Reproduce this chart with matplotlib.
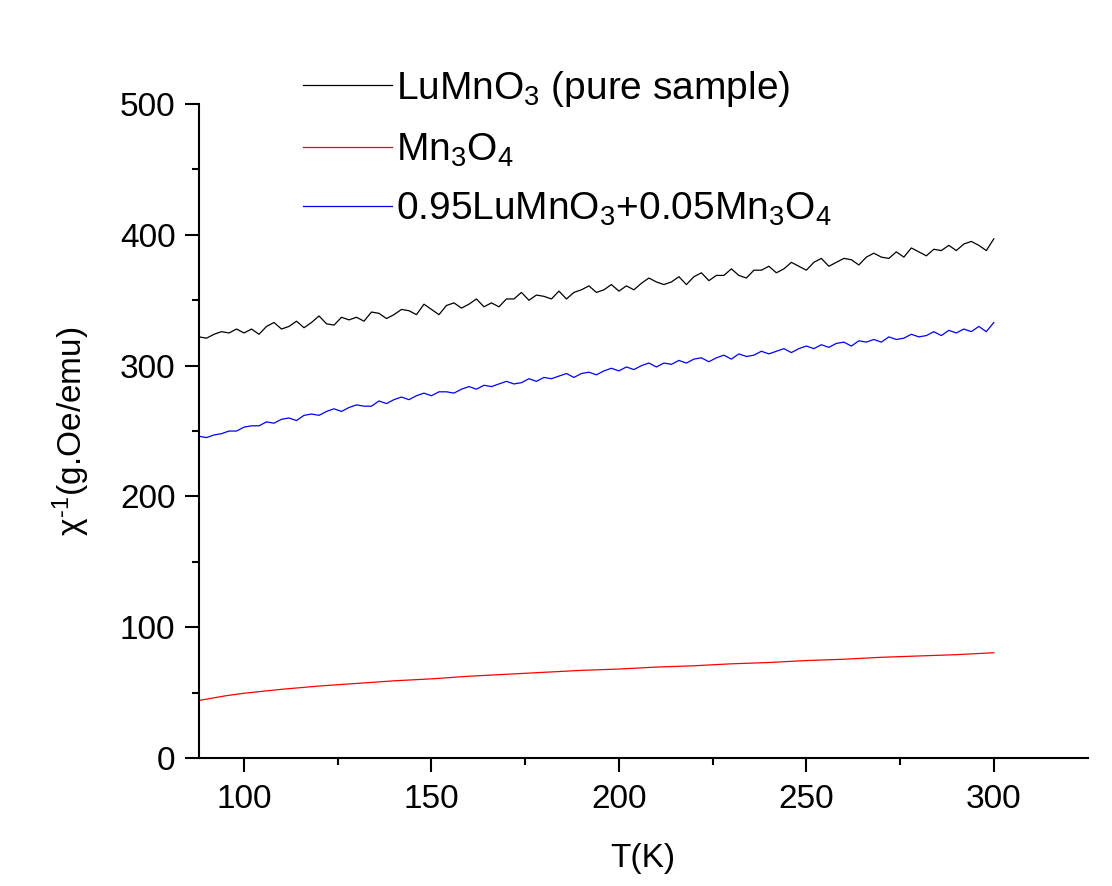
import matplotlib
matplotlib.use('Agg')
import matplotlib.pyplot as plt
import numpy as np

plt.rcParams['font.family'] = ['Liberation Sans', 'DejaVu Sans']
plt.rcParams['mathtext.fontset'] = 'custom'
plt.rcParams['mathtext.rm'] = 'Liberation Sans'
plt.rcParams['mathtext.it'] = 'Liberation Sans'

# temperature grid of the noisy measurements (K)
T = np.arange(88, 301, 2)

# LuMnO3 pure sample
chi_pure = [322, 321, 324, 326, 325, 328, 325,
            328, 324, 330, 333, 328, 330, 334, 329, 333, 338,
            332, 331, 337, 335, 337, 334, 341, 340, 336, 339,
            343, 342, 339, 347, 343, 339, 346, 348, 344, 347,
            351, 345, 348, 345, 351, 351, 356, 350, 354, 353,
            351, 357, 351, 356, 358, 361, 356, 358, 362, 357,
            361, 358, 363, 367, 364, 362, 364, 368, 362, 368,
            371, 365, 369, 369, 374, 369, 367, 373, 373, 376,
            371, 374, 379, 376, 373, 379, 382, 376, 379, 382,
            381, 377, 383, 386, 383, 382, 387, 383, 390, 387,
            384, 389, 388, 392, 388, 393, 395, 392, 388, 397]

# 0.95LuMnO3 + 0.05Mn3O4
chi_mix = [246, 245, 247, 248, 250, 250, 253,
           254, 254, 257, 256, 259, 260, 258, 262, 263, 262,
           265, 267, 265, 268, 270, 269, 269, 273, 271, 274,
           276, 274, 277, 279, 277, 280, 280, 279, 282, 284,
           282, 285, 284, 286, 288, 286, 287, 290, 288, 291,
           290, 292, 294, 291, 294, 295, 293, 296, 298, 296,
           299, 297, 300, 302, 299, 302, 301, 304, 302, 305,
           306, 303, 306, 308, 305, 309, 307, 308, 311, 309,
           311, 313, 310, 313, 315, 313, 316, 314, 317, 318,
           315, 319, 318, 320, 318, 322, 320, 321, 324, 322,
           323, 326, 323, 327, 325, 328, 326, 330, 326, 333]

# Mn3O4 (smooth)
T_mn = [88, 90, 95, 100, 110, 120, 130, 140, 150, 160, 170, 180,
        190, 200, 210, 220, 230, 240, 250, 260, 270, 280, 290, 300]
chi_mn = [44, 45, 47.5, 49.5, 52.5, 55, 57, 59, 60.5, 62.5, 64, 65.5,
          67, 68, 69.5, 70.5, 72, 73, 74.5, 75.5, 77, 78, 79, 80.5]

fig = plt.figure(figsize=(11.12, 8.86), dpi=100)
ax = fig.add_axes([0.179, 0.1445, 0.799, 0.738])

ax.plot(T, chi_pure, color='black', lw=0.9, label=r'LuMnO$_3$ (pure sample)')
ax.plot(T_mn, chi_mn, color='red', lw=0.9, label=r'Mn$_3$O$_4$')
ax.plot(T, chi_mix, color='blue', lw=0.9, label=r'0.95LuMnO$_3$+0.05Mn$_3$O$_4$')

ax.set_xlim(88, 325)
ax.set_ylim(0, 500)
ax.set_xticks([100, 150, 200, 250, 300])
ax.set_xticks([125, 175, 225, 275], minor=True)
ax.set_yticks([0, 100, 200, 300, 400, 500])
ax.set_yticks([50, 150, 250, 350, 450], minor=True)

for s in ['top', 'right']:
    ax.spines[s].set_visible(False)
for s in ['left', 'bottom']:
    ax.spines[s].set_linewidth(1.5)

ax.tick_params(which='major', direction='out', length=10, width=1.5, labelsize=24)
ax.tick_params(which='minor', direction='out', length=5, width=1.5)
ax.tick_params(axis='x', which='major', pad=9)
ax.tick_params(axis='y', which='major', pad=7)

ax.set_xlabel('T(K)', fontsize=24, labelpad=20)
ax.set_ylabel('$\\chi^{\u20101}$(g.Oe/emu)', fontsize=24, labelpad=20)

ax.legend(loc='upper left', bbox_to_anchor=(0.099, 1.078), frameon=False,
          fontsize=28, handlelength=2.3, handletextpad=0.1, labelspacing=0.58,
          borderaxespad=0)

fig.savefig('out.png', dpi=100)
